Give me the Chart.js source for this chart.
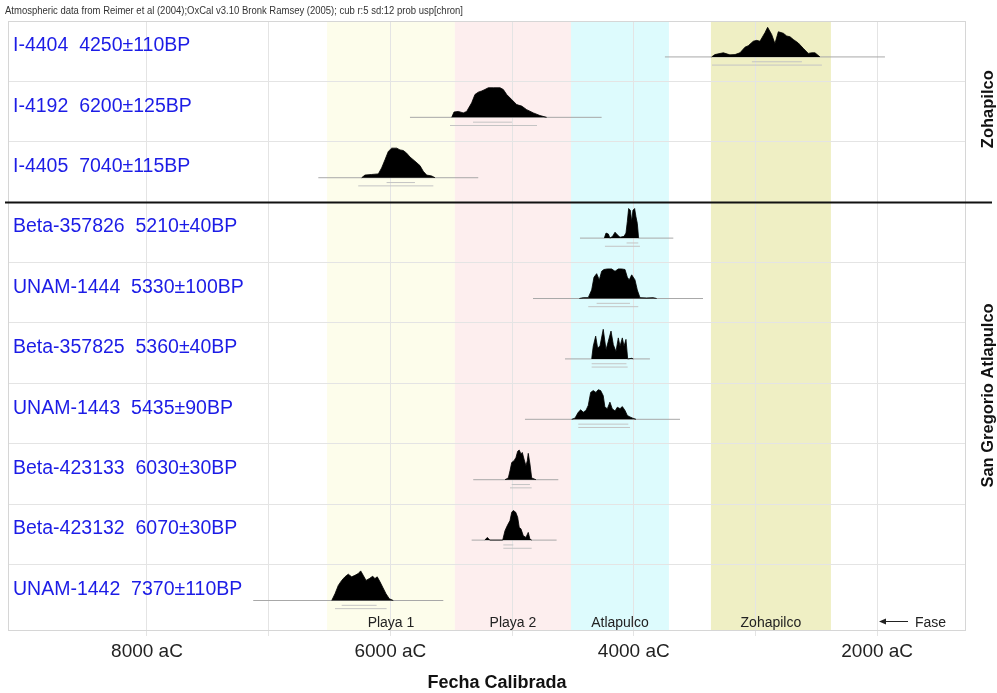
<!DOCTYPE html>
<html>
<head>
<meta charset="utf-8">
<script src="https://cdn.jsdelivr.net/npm/chart.js@4.4.1/dist/chart.umd.min.js"></script>
<style>
  html, body { margin: 0; padding: 0; background: #fff; }
</style>
</head>
<body>
<canvas id="c" width="997" height="693"></canvas>
<script>
// muestras (de arriba a abajo)
const labCodes = ['I-4404', 'I-4192', 'I-4405', 'Beta-357826', 'UNAM-1444', 'Beta-357825', 'UNAM-1443', 'Beta-423133', 'Beta-423132', 'UNAM-1442'];
const labAges = ['4250±110BP', '6200±125BP', '7040±115BP', '5210±40BP', '5330±100BP', '5360±40BP', '5435±90BP', '6030±30BP', '6070±30BP', '7370±110BP'];
const groupNames = ['Zohapilco', 'San Gregorio Atlapulco'];

// fases (años aC)
const phaseNames = ['Playa 1', 'Playa 2', 'Atlapulco', 'Zohapilco'];
const phaseFrom = [6520, 5470, 4516, 3366];
const phaseTo = [5470, 4516, 3711, 2380];

// eje
const tickYears = [2000, 3000, 4000, 5000, 6000, 7000, 8000];
const xMin = 1270, xMax = 9142;

// distribuciones calibradas: años aC y densidad relativa
const yrsI4404 = [3360, 3333, 3264, 3210, 3168, 3127, 3086, 3059, 3018, 2990, 2963, 2922, 2900, 2867, 2840, 2812, 2771, 2744, 2716, 2689, 2648, 2607, 2566, 2538, 2511, 2470];
const denI4404 = [0, 0.08, 0.14, 0.07, 0.08, 0.14, 0.33, 0.38, 0.53, 0.56, 0.53, 0.82, 1, 0.76, 0.45, 0.85, 0.8, 0.71, 0.68, 0.59, 0.47, 0.29, 0.12, 0.14, 0.14, 0];
const yrsI4192 = [5496, 5477, 5442, 5401, 5373, 5332, 5305, 5278, 5250, 5223, 5195, 5154, 5099, 5072, 5044, 5003, 4962, 4921, 4880, 4825, 4771, 4716];
const denI4192 = [0, 0.18, 0.2, 0.15, 0.2, 0.49, 0.77, 0.85, 0.89, 0.94, 1, 1, 1, 0.94, 0.77, 0.6, 0.43, 0.38, 0.26, 0.15, 0.06, 0];
const yrsI4405 = [6236, 6209, 6154, 6099, 6072, 6044, 6017, 5989, 5948, 5921, 5894, 5866, 5839, 5798, 5757, 5730, 5702, 5661, 5633];
const denI4405 = [0, 0.09, 0.11, 0.13, 0.33, 0.61, 0.89, 1, 1, 0.94, 0.92, 0.83, 0.7, 0.56, 0.41, 0.22, 0.09, 0.06, 0];
const yrsB357826 = [4242, 4228, 4209, 4196, 4174, 4154, 4135, 4113, 4080, 4064, 4053, 4042, 4028, 4017, 4007, 3993, 3982, 3971, 3960];
const denB357826 = [0, 0.17, 0.14, 0, 0.06, 0.2, 0.11, 0.03, 0.06, 0.17, 0.56, 1, 0.94, 0.56, 0.94, 1, 0.72, 0.5, 0];
const yrsU1444 = [4447, 4415, 4374, 4346, 4327, 4305, 4283, 4264, 4245, 4217, 4182, 4154, 4127, 4100, 4072, 4053, 4037, 4017, 3990, 3971, 3949, 3894, 3840, 3812];
const denU1444 = [0, 0.03, 0.03, 0.29, 0.72, 0.84, 0.63, 0.92, 0.98, 1, 1, 0.92, 1, 1, 0.98, 0.72, 0.63, 0.8, 0.63, 0.29, 0.03, 0.02, 0.03, 0];
const yrsB357825 = [4346, 4333, 4313, 4297, 4278, 4251, 4228, 4209, 4187, 4168, 4146, 4127, 4113, 4094, 4080, 4064, 4050, 4017, 4004];
const denB357825 = [0, 0.43, 0.77, 0.37, 0.43, 1, 0.31, 0.6, 0.94, 0.48, 0.25, 0.71, 0.43, 0.71, 0.43, 0.66, 0, 0.02, 0];
const yrsU1443 = [4510, 4483, 4456, 4436, 4415, 4393, 4374, 4354, 4333, 4311, 4292, 4272, 4251, 4237, 4217, 4196, 4177, 4154, 4135, 4113, 4094, 4072, 4053, 4031, 4009, 3982];
const denU1443 = [0, 0.04, 0.24, 0.32, 0.24, 0.3, 0.47, 0.91, 0.97, 0.91, 1, 0.97, 0.8, 0.41, 0.36, 0.58, 0.36, 0.28, 0.41, 0.36, 0.43, 0.3, 0.13, 0.08, 0.04, 0];
const yrsB423133 = [5058, 5031, 5017, 5003, 4984, 4968, 4954, 4941, 4927, 4916, 4902, 4886, 4875, 4867, 4853, 4839, 4804];
const denB423133 = [0, 0.06, 0.3, 0.58, 0.64, 0.75, 0.96, 1, 0.87, 0.92, 0.7, 0.47, 0.64, 0.89, 0.53, 0.06, 0];
const yrsB423132 = [5223, 5204, 5182, 5077, 5058, 5039, 5017, 5003, 4990, 4970, 4954, 4941, 4927, 4908, 4886, 4867, 4853, 4839];
const denB423132 = [0, 0.09, 0, 0, 0.32, 0.49, 0.66, 0.94, 1, 0.94, 0.77, 0.43, 0.38, 0.15, 0.09, 0.26, 0.03, 0];
const yrsU1442 = [6482, 6455, 6428, 6400, 6373, 6346, 6318, 6291, 6264, 6244, 6223, 6200, 6173, 6145, 6127, 6108, 6085, 6063, 6036, 6009, 5976];
const denU1442 = [0, 0.23, 0.51, 0.68, 0.8, 0.89, 0.8, 0.85, 0.91, 1, 0.85, 0.68, 0.74, 0.82, 0.74, 0.8, 0.63, 0.45, 0.23, 0.06, 0];

// linea gris y rangos 1 sigma / 2 sigma
const lineFrom = [3744, 5839, 6592, 4442, 4828, 4565, 4894, 5319, 5332, 7127];
const lineTo = [1936, 4264, 5278, 3675, 3431, 3867, 3620, 4620, 4634, 5565];
const sig1From = [3029, 5321, 6031, 4059, 4305, 4346, 4456, 5003, 5072, 6400];
const sig1To = [2618, 5001, 5798, 3963, 4031, 4060, 4045, 4853, 4990, 6113];
const sig2From = [3357, 5510, 6264, 4237, 4374, 4346, 4456, 5017, 5072, 6455];
const sig2To = [2454, 4795, 5647, 3949, 3963, 4050, 4031, 4839, 4839, 6031];

const dists = [
  [yrsI4404, denI4404], [yrsI4192, denI4192], [yrsI4405, denI4405],
  [yrsB357826, denB357826], [yrsU1444, denU1444], [yrsB357825, denB357825],
  [yrsU1443, denU1443], [yrsB423133, denB423133], [yrsB423132, denB423132],
  [yrsU1442, denU1442]
];

const FONT = '"Liberation Sans", Arial, sans-serif';
const phaseColors = ['#fdfdeb', '#fdeeee', '#ddfbfd', '#efefc4'];
const BASE = 0.595, AMP = 0.49;

const datasets = [];
dists.forEach(([yrs, den], i) => {
  const base = i + BASE;
  datasets.push({
    data: yrs.map((x, k) => ({ x: x, y: base - den[k] * AMP })),
    borderColor: '#000', backgroundColor: '#000', borderWidth: 0.8,
    fill: { value: base }, pointRadius: 0, order: 0
  });
  datasets.push({
    data: [{ x: lineFrom[i], y: base }, { x: lineTo[i], y: base }],
    borderColor: '#a8a8a8', borderWidth: 1, pointRadius: 0, fill: false, order: 1
  });
  datasets.push({
    data: [{ x: sig1From[i], y: base + 0.08 }, { x: sig1To[i], y: base + 0.08 }],
    borderColor: '#c4c4c4', borderWidth: 1, pointRadius: 0, fill: false, order: 1
  });
  datasets.push({
    data: [{ x: sig2From[i], y: base + 0.135 }, { x: sig2To[i], y: base + 0.135 }],
    borderColor: '#c4c4c4', borderWidth: 1, pointRadius: 0, fill: false, order: 1
  });
});

const decor = {
  id: 'decor',
  beforeDraw(chart) {
    const { ctx, chartArea: a, scales: { x } } = chart;
    ctx.save();
    ctx.fillStyle = '#fff';
    ctx.fillRect(0, 0, chart.width, chart.height);
    phaseNames.forEach((n, i) => {
      const x0 = x.getPixelForValue(phaseFrom[i]);
      const x1 = x.getPixelForValue(phaseTo[i]);
      ctx.fillStyle = phaseColors[i];
      ctx.fillRect(x0, a.top, x1 - x0, a.bottom - a.top);
    });
    ctx.restore();
  },
  afterDatasetsDraw(chart) {
    const { ctx, chartArea: a, scales: { x, y } } = chart;
    ctx.save();
    // marco
    ctx.strokeStyle = '#d6d6d6';
    ctx.lineWidth = 1;
    ctx.strokeRect(a.left + 0.5, a.top + 0.5, a.right - a.left - 1, a.bottom - a.top - 1);

    // separador de grupos
    const ySep = Math.round(y.getPixelForValue(3)) + 0.5;
    ctx.strokeStyle = '#111';
    ctx.lineWidth = 2;
    ctx.beginPath(); ctx.moveTo(5, ySep); ctx.lineTo(992, ySep); ctx.stroke();

    // etiquetas de muestras
    ctx.fillStyle = '#1c1ce6';
    ctx.font = '19.5px ' + FONT;
    ctx.textBaseline = 'middle';
    ctx.textAlign = 'left';
    labCodes.forEach((c, i) => {
      ctx.fillText(c + '  ' + labAges[i], 13, y.getPixelForValue(i + 0.41));
    });

    // nombres de fase
    ctx.fillStyle = '#222';
    ctx.font = '14px ' + FONT;
    ctx.textAlign = 'center';
    ctx.textBaseline = 'alphabetic';
    phaseNames.forEach((n, i) => {
      const xc = (x.getPixelForValue(phaseFrom[i]) + x.getPixelForValue(phaseTo[i])) / 2;
      ctx.fillText(n, xc, a.bottom - 4);
    });
    ctx.textAlign = 'left';
    ctx.fillText('Fase', 915, a.bottom - 4);
    ctx.strokeStyle = '#222';
    ctx.lineWidth = 1;
    ctx.beginPath(); ctx.moveTo(881, a.bottom - 9.5); ctx.lineTo(908, a.bottom - 9.5); ctx.stroke();
    ctx.beginPath();
    ctx.moveTo(879, a.bottom - 9.5); ctx.lineTo(886, a.bottom - 12.5); ctx.lineTo(886, a.bottom - 6.5);
    ctx.closePath(); ctx.fillStyle = '#222'; ctx.fill();

    // grupos (vertical)
    ctx.fillStyle = '#111';
    ctx.font = 'bold 16.5px ' + FONT;
    ctx.textAlign = 'center';
    ctx.textBaseline = 'middle';
    [[groupNames[0], 1.46], [groupNames[1], 6.2]].forEach(([t, r]) => {
      ctx.save();
      ctx.translate(988, y.getPixelForValue(r));
      ctx.rotate(-Math.PI / 2);
      ctx.fillText(t, 0, 0);
      ctx.restore();
    });

    // cabecera
    ctx.fillStyle = '#333';
    ctx.font = '10px ' + FONT;
    ctx.textAlign = 'left';
    ctx.fillText('Atmospheric data from Reimer et al (2004);OxCal v3.10 Bronk Ramsey (2005); cub r:5 sd:12 prob usp[chron]', 5, 11, 458);

    // título del eje
    ctx.fillStyle = '#111';
    ctx.font = 'bold 18px ' + FONT;
    ctx.textAlign = 'center';
    ctx.fillText('Fecha Calibrada', 497, 683);
    ctx.restore();
  }
};

new Chart(document.getElementById('c'), {
  type: 'line',
  data: { datasets: datasets },
  options: {
    responsive: false,
    animation: false,
    events: [],
    layout: { padding: { left: 8, right: 31, top: 21, bottom: 0 } },
    plugins: { legend: { display: false }, tooltip: { enabled: false } },
    scales: {
      x: {
        type: 'linear', reverse: true, min: xMin, max: xMax,
        afterBuildTicks: s => { s.ticks = tickYears.map(v => ({ value: v })); },
        afterFit: s => { s.height = 62; },
        grid: { color: '#e4e4e4', tickLength: 5 },
        border: { display: false },
        ticks: {
          padding: 4, color: '#222', maxRotation: 0, autoSkip: false,
          font: { family: FONT, size: 19 },
          callback: v => (v % 2000 === 0 ? v + ' aC' : '')
        }
      },
      y: {
        type: 'linear', reverse: true, min: 0, max: 10.1,
        afterBuildTicks: s => { s.ticks = [1, 2, 4, 5, 6, 7, 8, 9].map(v => ({ value: v })); },
        afterFit: s => { s.width = 0; },
        grid: { color: '#e4e4e4', drawTicks: false },
        border: { display: false },
        ticks: { display: false }
      }
    }
  },
  plugins: [decor]
});
</script>
</body>
</html>
